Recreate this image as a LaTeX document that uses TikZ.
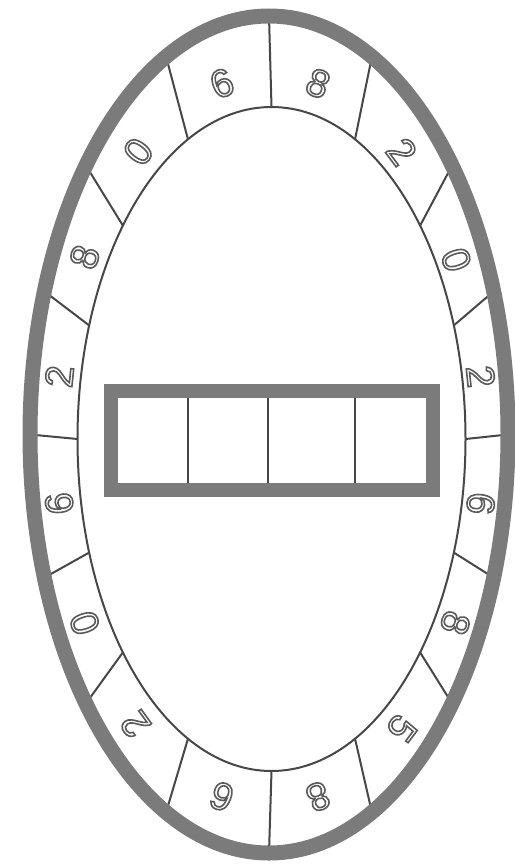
\documentclass[tikz,border=0pt]{standalone}
\usepackage{fontspec}
\setmainfont{Liberation Sans}
\definecolor{rimgray}{HTML}{7B7B7B}
\definecolor{linegray}{HTML}{474747}
\definecolor{digitgray}{HTML}{5A5A5A}
\newcommand\hollowdigit[1]{\special{pdf:literal direct 1 Tr 1.6 w}#1\special{pdf:literal direct 0 Tr}}
\tikzset{
  rim/.style={draw=rimgray, line width=15pt},
  thinline/.style={draw=linegray, line width=2pt},
  digit/.style={text=digitgray, font=\fontsize{39}{39}\selectfont, inner sep=0pt},
  framebox/.style={draw=rimgray, line width=14pt, minimum width=322pt, minimum height=99.5pt, inner sep=0pt},
}
\begin{document}
\begin{tikzpicture}[x=1pt,y=-1pt]
\useasboundingbox (0,0) rectangle (514,864);
\fill[white] (0,0) rectangle (514,864);
% sector dividers
\foreach \t [count=\i] in {0,20,40,64.5,90,115.5,140,160,180,200,220,244.5,270,295.5,320,340}{
  \coordinate (in\i) at ({271.5+194*cos(\t)},{439-332*sin(\t)});
  \coordinate (out\i) at ({269+239*cos(\t)},{434.5-418.5*sin(\t)});
  \draw[thinline] (in\i) -- (out\i);
}
% inner ellipse
\draw[thinline] (271.5,439) ellipse [x radius=194pt, y radius=332pt];
% outer rim
\draw[rim] (269,434.5) ellipse [x radius=239pt, y radius=418.5pt];
% digits
\foreach \t/\d [count=\i] in {77/8,52/2,29.5/0,10/2,350/6,330/8,308/5,283/8,257/6,231/2,210/0,190/6,170/2,150/8,128/0,103/6}{
  \node[digit, rotate={atan2(214*sin(\t),366*cos(\t))-90}] (d\i) at ({270+214*cos(\t)},{440-366*sin(\t)}) {\hollowdigit{\d}};
}
% cell dividers in the box
\foreach \x [count=\j] in {188,268,355}{
  \coordinate (ct\j) at (\x,392);
  \coordinate (cb\j) at (\x,489);
  \draw[thinline] (ct\j) -- (cb\j);
}
% box frame
\node[framebox] (box) at (271.5,440.25) {};
\end{tikzpicture}
\end{document}
